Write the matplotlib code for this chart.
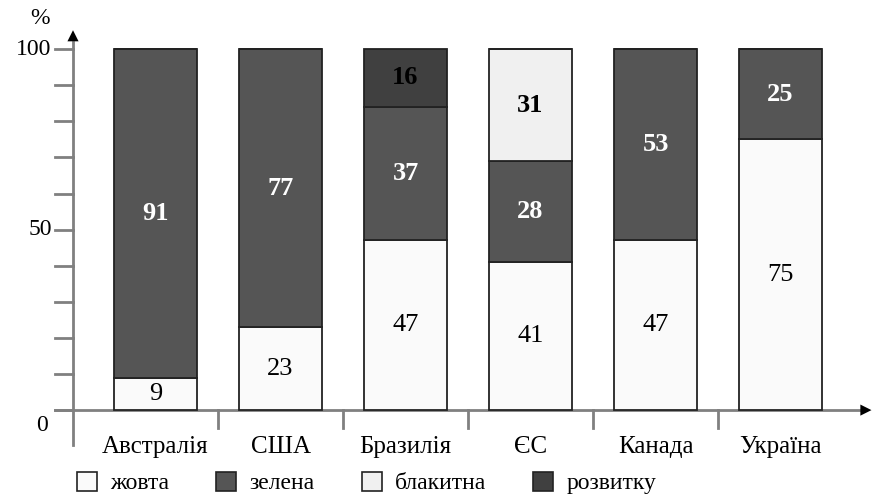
import matplotlib.pyplot as plt
from matplotlib.patches import Rectangle

plt.rcParams['font.family'] = ['Liberation Serif', 'DejaVu Serif']

countries = ['Австралія', 'США', 'Бразилія', 'ЄС', 'Канада', 'Україна']
series_names = ['жовта', 'зелена', 'блакитна', 'розвитку']
zhovta = [9, 23, 47, 41, 47, 75]
zelena = [91, 77, 37, 28, 53, 25]
blakytna = [0, 0, 0, 31, 0, 0]
rozvytku = [0, 0, 16, 0, 0, 0]
y_labels = [0, 50, 100]

series = [zhovta, zelena, blakytna, rozvytku]
colors = ['#fafafa', '#555555', '#f0f0f0', '#404040']
text_colors = ['black', 'white', 'black', 'black']
weights = ['normal', 'bold', 'bold', 'bold']

fig = plt.figure(figsize=(8.74, 5), dpi=100)
ax = fig.add_axes([0, 0, 1, 1])
# whole figure is the axes: category i sits at pixel 155.5 + 125*i, 0..100 maps to pixel 410..49
ax.set_xlim(-1.244, 5.748)
ax.set_ylim(-24.9, 113.6)
ax.axis('off')

x = range(len(countries))
bottom = [0] * len(countries)
for vals, col, tc, fw in zip(series, colors, text_colors, weights):
    ax.bar(x, vals, bottom=bottom, width=0.664, color=col, edgecolor='#222222',
           linewidth=1.3, zorder=3)
    for i, v in enumerate(vals):
        if v > 0:
            ax.text(i, bottom[i] + v / 2, str(v), ha='center', va='center',
                    fontsize=19, color=tc, fontweight=fw, zorder=4)
    bottom = [b + v for b, v in zip(bottom, vals)]

axis_col = '#808080'
# y axis with arrow
ax.plot([-0.66, -0.66], [-9.7, 102], color=axis_col, lw=2, zorder=2)
ax.annotate('', xy=(-0.66, 106), xytext=(-0.66, 101),
            arrowprops=dict(arrowstyle='-|>', color='black', lw=0, mutation_scale=20))
# x axis with arrow
ax.plot([-0.805, 5.68], [0, 0], color=axis_col, lw=2, zorder=2)
ax.annotate('', xy=(5.75, 0), xytext=(5.66, 0),
            arrowprops=dict(arrowstyle='-|>', color='black', lw=0, mutation_scale=20))

for t in range(0, 101, 10):
    ax.plot([-0.805, -0.66], [t, t], color=axis_col, lw=2, zorder=2)
for t in y_labels:
    if t == 0:
        ax.text(-0.86, -4.2, '0', ha='right', va='center', fontsize=17)
    else:
        ax.text(-0.83, t, str(t), ha='right', va='center', fontsize=17)
ax.text(-0.92, 108.5, '%', ha='center', va='center', fontsize=17)

for k in range(len(countries) - 1):
    ax.plot([k + 0.5, k + 0.5], [0, -5], color=axis_col, lw=2, zorder=2)
for i, c in enumerate(countries):
    ax.text(i, -10.2, c, ha='center', va='center', fontsize=18)

handles = [Rectangle((0, 0), 1, 1, facecolor=c, edgecolor='#222222', lw=1.2) for c in colors]
ax.legend(handles, series_names, ncol=4, loc='center left', bbox_to_anchor=(0.088, 0.034),
          frameon=False, fontsize=17, handlelength=0.85, handleheight=0.85,
          handletextpad=0.55, columnspacing=2.0, borderaxespad=0, borderpad=0)

fig.savefig('out.png', dpi=100)
